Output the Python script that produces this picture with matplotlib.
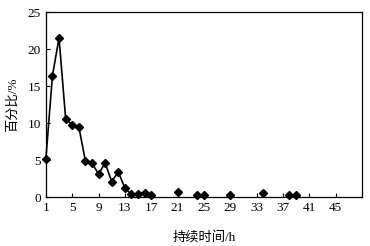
import numpy as np
import matplotlib
matplotlib.use("Agg")
import matplotlib.pyplot as plt

plt.rcParams['font.family'] = ['Liberation Serif', 'Noto Sans CJK SC']

# 持续时间 (h) 与百分比 (%)
hours = [1, 2, 3, 4, 5, 6, 7, 8, 9, 10, 11, 12, 13, 14, 15, 16, 17,
         18, 19, 20, 21, 22, 23, 24, 25, 26, 27, 28, 29, 30, 31, 32, 33,
         34, 35, 36, 37, 38, 39]
percent = [5.2, 16.4, 21.5, 10.6, 9.7, 9.5, 4.9, 4.6, 3.1, 4.6, 2.1, 3.4, 1.2,
           0.4, 0.4, 0.6, 0.3,
           np.nan, np.nan, np.nan, 0.7, np.nan, np.nan, 0.3, 0.3, np.nan,
           np.nan, np.nan, 0.3, np.nan, np.nan, np.nan, np.nan,
           0.6, np.nan, np.nan, np.nan, 0.3, 0.3]
xticks = [1, 5, 9, 13, 17, 21, 25, 29, 33, 37, 41, 45]
yticks = [0, 5, 10, 15, 20, 25]

fig = plt.figure(figsize=(3.7, 2.46), dpi=100)
ax = fig.add_axes([0.124, 0.199, 0.854, 0.752])

ax.plot(hours, percent, color='black', lw=1.2, marker='D', ms=4.5,
        mfc='black', mec='black', clip_on=False, zorder=3)

ax.set_xlim(1, 49)
ax.set_ylim(0, 25)
ax.set_xticks(xticks)
ax.set_yticks(yticks)
ax.tick_params(direction='in', length=3, width=0.8, labelsize=9.5,
               top=False, right=False)
for s in ax.spines.values():
    s.set_linewidth(0.9)

ax.set_xlabel('持续时间/h', fontsize=9.5, labelpad=12)
ax.set_ylabel('百分比/%', fontsize=9.5, labelpad=6)

fig.savefig('out.png', dpi=100)
